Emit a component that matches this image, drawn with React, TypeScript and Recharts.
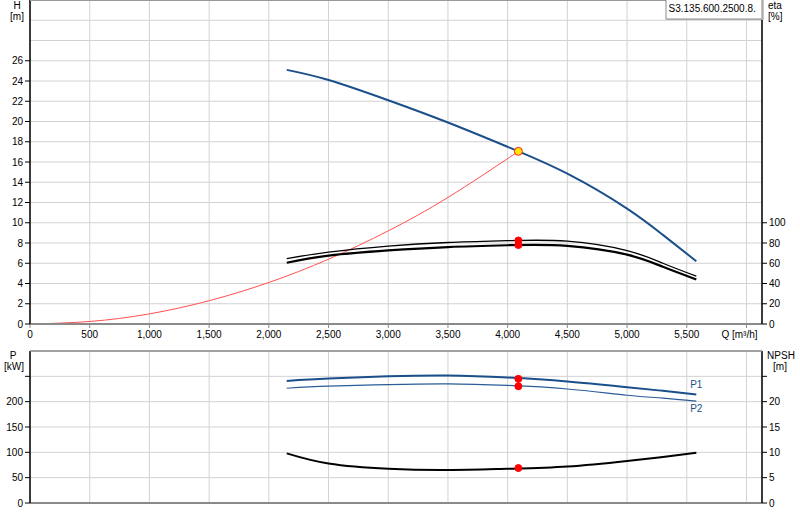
import React from 'react';
import { ComposedChart, Line, XAxis, YAxis, CartesianGrid, ReferenceDot } from 'recharts';

// ---- axis ticks ----
const X_TICKS = [0, 500, 1000, 1500, 2000, 2500, 3000, 3500, 4000, 4500, 5000, 5500, 6000];
const H_TICKS = [0, 2, 4, 6, 8, 10, 12, 14, 16, 18, 20, 22, 24, 26, 28, 30];
const ETA_TICKS = [0, 20, 40, 60, 80, 100];
const P_TICKS = [0, 50, 100, 150, 200, 250, 300];
const NPSH_TICKS = [0, 5, 10, 15, 20, 25];

// ---- pump curves (flow Q in m³/h) ----
const Q_PUMP = [2150, 2500, 3000, 3500, 4000, 4500, 5000, 5300, 5580];
const H_PUMP = [25.1, 24.1, 22.1, 19.9, 17.5, 14.85, 11.4, 8.8, 6.2];
const ETA_1 = [64.5, 71, 77, 80.5, 82.3, 81.8, 72.5, 60, 47.2];
const ETA_2 = [60.5, 67.5, 72.7, 76, 77.8, 77.2, 68.5, 56.5, 44];
const P1_KW = [241, 245.6, 250, 251.5, 247.5, 239.7, 228.5, 221.4, 214];
const P2_KW = [226.5, 230.5, 233.8, 235.2, 232, 225, 212.7, 207, 201];
const NPSH_M = [9.8, 7.8, 6.75, 6.5, 6.75, 7.2, 8.3, 9.1, 9.9];

// ---- duty point ----
const DUTY_Q = 4090;
const DUTY_H = 17.05;
const DUTY_ETA_1 = 82.5;
const DUTY_ETA_2 = 78;
const DUTY_P1 = 245;
const DUTY_P2 = 230.5;
const DUTY_NPSH = 6.9;

// ---- system curve ----
const Q_SYSTEM = [0, 500, 1000, 1500, 2000, 2500, 3000, 3500, 4090];
const H_SYSTEM = [0, 0.25, 1.0, 2.3, 4.1, 6.4, 9.2, 12.5, 17.05];

const MODEL = 'S3.135.600.2500.8.';

const FONT = '"Liberation Sans", Arial, sans-serif';
const BLUE = '#1a4f8a';
const BLUE2 = '#2b5c96';
const GRID = '#d2d2d2';
const AXIS_GRAY = '#8a8a8a';

const rows = (xs: number[], ys: number[]) => xs.map((q, i) => ({ q, v: ys[i] }));

const hRows = rows(Q_PUMP, H_PUMP);
const sysRows = rows(Q_SYSTEM, H_SYSTEM);
const eta1Rows = rows(Q_PUMP, ETA_1);
const eta2Rows = rows(Q_PUMP, ETA_2);
const p1Rows = rows(Q_PUMP, P1_KW);
const p2Rows = rows(Q_PUMP, P2_KW);
const npshRows = rows(Q_PUMP, NPSH_M);

const fmt = (v: number) => v.toLocaleString('en-US');

const YTick = (props: any) => {
  const { x, y, payload, side, labelMax, markMax } = props;
  const v = payload.value;
  const left = side === 'left';
  return (
    <g>
      {v <= markMax && (
        <line
          x1={left ? x + 2 : x - 2}
          x2={left ? x + 7 : x - 7}
          y1={y}
          y2={y}
          stroke="#000"
          strokeWidth={1}
        />
      )}
      {v <= labelMax && (
        <text
          x={x}
          y={y}
          dy="0.355em"
          textAnchor={left ? 'end' : 'start'}
          fill="#000"
          fontSize={10}
          fontFamily={FONT}
        >
          {v}
        </text>
      )}
    </g>
  );
};

const XTick = (props: any) => {
  const { x, y, payload } = props;
  const v = payload.value;
  const isLast = v === X_TICKS[X_TICKS.length - 1];
  return (
    <text
      x={isLast ? x - 7 : x}
      y={y}
      dy="0.71em"
      textAnchor="middle"
      fill="#000"
      fontSize={10}
      fontFamily={FONT}
    >
      {isLast ? 'Q [m³/h]' : fmt(v)}
    </text>
  );
};

const EmptyTick = () => <g />;

const endLabel = (text: string, dy: number, count: number) => (props: any) => {
  const { x, y, index } = props;
  if (index !== count - 1) return null;
  return (
    <text x={x} y={y + dy} dy="0.355em" textAnchor="middle" fill={BLUE} fontSize={10} fontFamily={FONT}>
      {text}
    </text>
  );
};

const lineCommon = {
  type: 'natural' as const,
  dot: false,
  activeDot: false,
  isAnimationActive: false,
};

export default function App() {
  return (
    <div
      style={{
        position: 'fixed',
        left: 0,
        top: 0,
        width: 800,
        height: 520,
        background: '#fff',
        fontFamily: FONT,
      }}
    >
      <div style={{ position: 'absolute', left: 0, top: 0 }}>
        <ComposedChart width={800} height={344} margin={{ top: 0, right: 0, bottom: 0, left: 0 }}>
          <CartesianGrid yAxisId="h" stroke={GRID} strokeWidth={1} />
          <XAxis
            dataKey="q"
            type="number"
            domain={[0, 6130]}
            ticks={X_TICKS}
            height={20}
            tickSize={4}
            tickMargin={3}
            axisLine={{ stroke: AXIS_GRAY, strokeWidth: 2 }}
            tickLine={{ stroke: AXIS_GRAY }}
            tick={<XTick />}
            interval={0}
            allowDuplicatedCategory={false}
          />
          <YAxis
            yAxisId="h"
            orientation="left"
            width={30}
            domain={[0, 32]}
            ticks={H_TICKS}
            interval={0}
            tickSize={5}
            tickMargin={2}
            tickLine={false}
            axisLine={{ stroke: '#000', strokeWidth: 1.5 }}
            tick={<YTick side="left" labelMax={26} markMax={26} />}
          />
          <YAxis
            yAxisId="eta"
            orientation="right"
            width={38}
            domain={[0, 320]}
            ticks={ETA_TICKS}
            interval={0}
            tickSize={5}
            tickMargin={2}
            tickLine={false}
            axisLine={{ stroke: '#000', strokeWidth: 1.5 }}
            tick={<YTick side="right" labelMax={100} markMax={100} />}
          />
          <Line {...lineCommon} data={sysRows} dataKey="v" yAxisId="h" stroke="#ff5050" strokeWidth={1} />
          <Line {...lineCommon} data={hRows} dataKey="v" yAxisId="h" stroke={BLUE} strokeWidth={2} />
          <Line {...lineCommon} data={eta1Rows} dataKey="v" yAxisId="eta" stroke="#000" strokeWidth={1.3} />
          <Line {...lineCommon} data={eta2Rows} dataKey="v" yAxisId="eta" stroke="#000" strokeWidth={2.2} />
          <ReferenceDot yAxisId="eta" x={DUTY_Q} y={DUTY_ETA_1} r={3.5} fill="#ff0000" stroke="#ff0000" />
          <ReferenceDot yAxisId="eta" x={DUTY_Q} y={DUTY_ETA_2} r={3.5} fill="#ff0000" stroke="#ff0000" />
          <ReferenceDot yAxisId="h" x={DUTY_Q} y={DUTY_H} r={4} fill="#ffe600" stroke="#ff2020" strokeWidth={1} />
        </ComposedChart>
      </div>

      <div style={{ position: 'absolute', left: 0, top: 345 }}>
        <ComposedChart width={800} height={175} margin={{ top: 6, right: 0, bottom: 0, left: 0 }}>
          <CartesianGrid yAxisId="p" stroke={GRID} strokeWidth={1} />
          <XAxis
            dataKey="q"
            type="number"
            domain={[0, 6130]}
            ticks={X_TICKS}
            height={17}
            tickLine={false}
            axisLine={{ stroke: AXIS_GRAY, strokeWidth: 2 }}
            tick={<EmptyTick />}
            interval={0}
            allowDuplicatedCategory={false}
          />
          <YAxis
            yAxisId="p"
            orientation="left"
            width={30}
            domain={[0, 300]}
            ticks={P_TICKS}
            interval={0}
            tickSize={5}
            tickMargin={2}
            tickLine={false}
            axisLine={{ stroke: '#000', strokeWidth: 1.5 }}
            tick={<YTick side="left" labelMax={200} markMax={250} />}
          />
          <YAxis
            yAxisId="npsh"
            orientation="right"
            width={38}
            domain={[0, 30]}
            ticks={NPSH_TICKS}
            interval={0}
            tickSize={5}
            tickMargin={2}
            tickLine={false}
            axisLine={{ stroke: '#000', strokeWidth: 1.5 }}
            tick={<YTick side="right" labelMax={20} markMax={25} />}
          />
          <Line
            {...lineCommon}
            data={p2Rows}
            dataKey="v"
            yAxisId="p"
            stroke={BLUE2}
            strokeWidth={1.2}
            label={endLabel('P2', 7, p2Rows.length)}
          />
          <Line
            {...lineCommon}
            data={p1Rows}
            dataKey="v"
            yAxisId="p"
            stroke={BLUE}
            strokeWidth={2}
            label={endLabel('P1', -10, p1Rows.length)}
          />
          <Line {...lineCommon} data={npshRows} dataKey="v" yAxisId="npsh" stroke="#000" strokeWidth={2} />
          <ReferenceDot yAxisId="p" x={DUTY_Q} y={DUTY_P1} r={3.5} fill="#ff0000" stroke="#ff0000" />
          <ReferenceDot yAxisId="p" x={DUTY_Q} y={DUTY_P2} r={3.5} fill="#ff0000" stroke="#ff0000" />
          <ReferenceDot yAxisId="npsh" x={DUTY_Q} y={DUTY_NPSH} r={3.5} fill="#ff0000" stroke="#ff0000" />
        </ComposedChart>
      </div>

      <svg
        width={800}
        height={520}
        style={{ position: 'absolute', left: 0, top: 0, pointerEvents: 'none' }}
        fontFamily={FONT}
        fontSize={10}
      >
        <line x1={30} x2={762} y1={0.5} y2={0.5} stroke="#9a9a9a" strokeWidth={1} />
        <line x1={30} x2={762} y1={351} y2={351} stroke="#8a8a8a" strokeWidth={1.5} />
        <text x={17} y={8.5} textAnchor="middle" fill="#000">H</text>
        <text x={17} y={19.5} textAnchor="middle" fill="#000">[m]</text>
        <text x={768} y={8.5} fill="#000">eta</text>
        <text x={768} y={19.5} fill="#000">[%]</text>
        <text x={13} y={358.5} textAnchor="middle" fill="#000">P</text>
        <text x={14} y={369.5} textAnchor="middle" fill="#000">[kW]</text>
        <text x={781} y={358.5} textAnchor="middle" fill="#000">NPSH</text>
        <text x={780} y={369.5} textAnchor="middle" fill="#000">[m]</text>
        <rect x={667} y={-1} width={97} height={21} fill="#c8c8c8" />
        <rect x={666} y={-1} width={96} height={20} fill="#fff" stroke="#8c8c8c" strokeWidth={1} />
        <text x={668.5} y={12} fill="#000">{MODEL}</text>
      </svg>
    </div>
  );
}
